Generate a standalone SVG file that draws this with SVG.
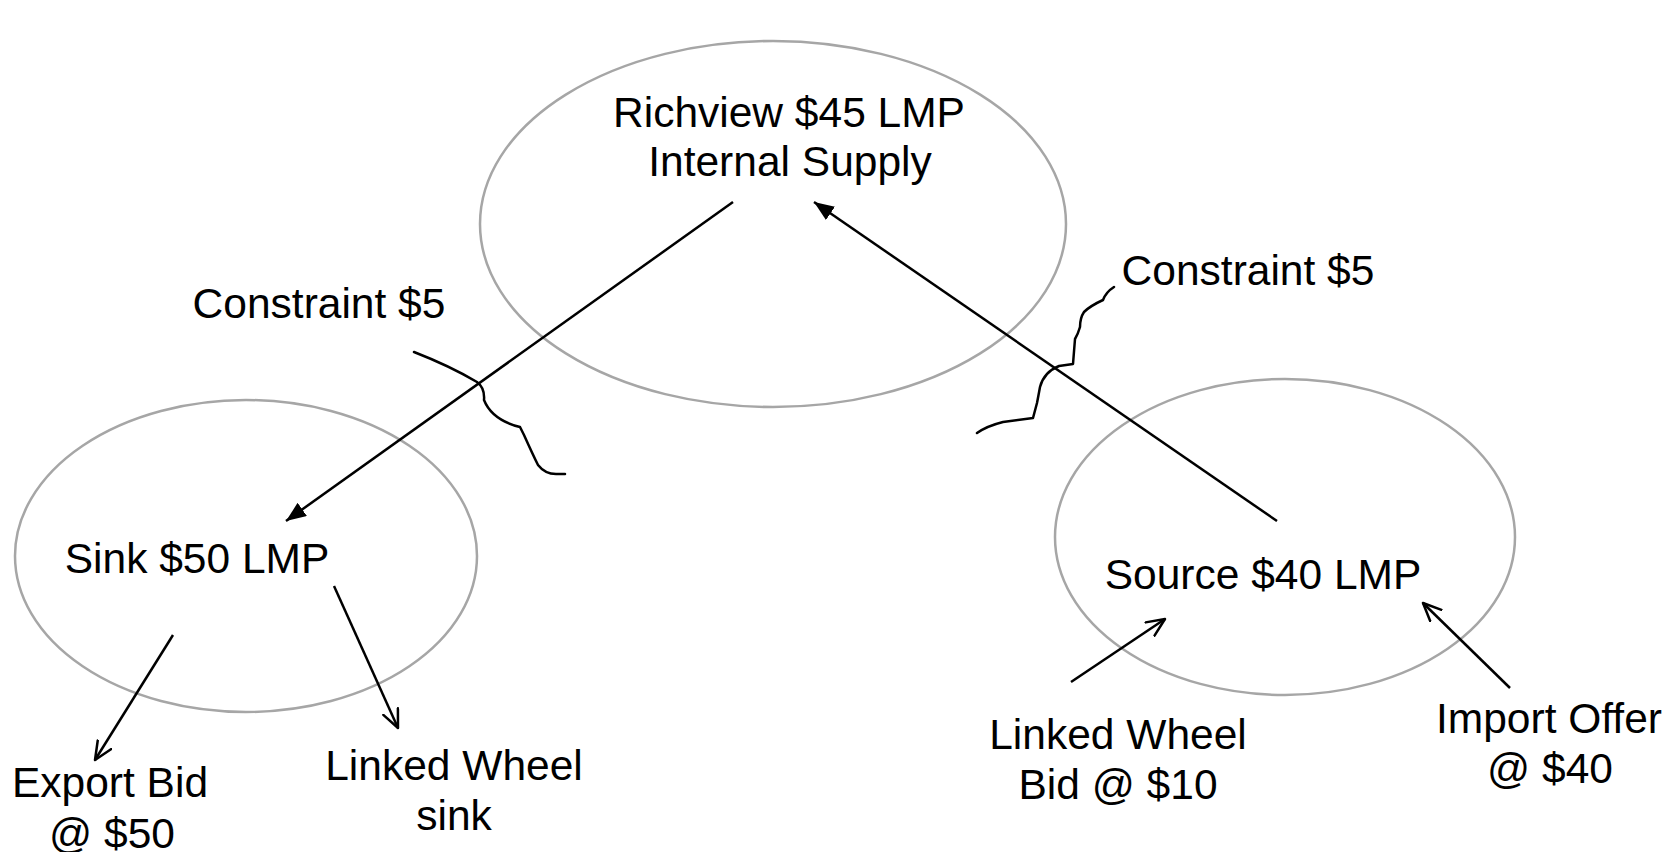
<svg xmlns="http://www.w3.org/2000/svg" width="1671" height="852" viewBox="0 0 1671 852">
  <style>
    .zone { fill: none; stroke: #a6a6a6; stroke-width: 2.5; }
    .lbl { font-family: "Liberation Sans", Arial, sans-serif; font-size: 42.5px; fill: #000; text-anchor: middle; }
    .flow { stroke: #000; stroke-width: 2.5; fill: none; }
    .cut { stroke: #000; stroke-width: 2.5; fill: none; stroke-linejoin: round; stroke-linecap: round; }
  </style>
  <defs>
    <marker id="solidHead" markerUnits="userSpaceOnUse" markerWidth="22" markerHeight="18" refX="20" refY="8" orient="auto">
      <path d="M0,0 L20,8 L0,16 z" fill="#000"/>
    </marker>
    <marker id="openHead" markerUnits="userSpaceOnUse" markerWidth="24" markerHeight="22" refX="19" refY="9" orient="auto">
      <path d="M1,1 L19,9 L1,17" fill="none" stroke="#000" stroke-width="2.5" stroke-linejoin="round" stroke-linecap="round"/>
    </marker>
  </defs>

  <rect width="1671" height="852" fill="#fff"/>

  <!-- zones -->
  <g id="richview">
    <ellipse class="zone" cx="773" cy="224" rx="293" ry="183"/>
    <text class="lbl" x="789" y="127">Richview $45 LMP</text>
    <text class="lbl" x="790" y="176">Internal Supply</text>
  </g>
  <g id="sink">
    <ellipse class="zone" cx="246" cy="556" rx="231" ry="156"/>
    <text class="lbl" x="197" y="573">Sink $50 LMP</text>
  </g>
  <g id="source">
    <ellipse class="zone" cx="1285" cy="537" rx="230" ry="158"/>
    <text class="lbl" x="1263" y="589">Source $40 LMP</text>
  </g>

  <!-- transaction labels -->
  <g id="export-bid">
    <text class="lbl" x="110" y="797">Export Bid</text>
    <text class="lbl" x="112" y="848">@ $50</text>
  </g>
  <g id="wheel-sink">
    <text class="lbl" x="454" y="780">Linked Wheel</text>
    <text class="lbl" x="454" y="830">sink</text>
  </g>
  <g id="wheel-bid">
    <text class="lbl" x="1118" y="749">Linked Wheel</text>
    <text class="lbl" x="1118" y="799">Bid @ $10</text>
  </g>
  <g id="import-offer">
    <text class="lbl" x="1549" y="733">Import Offer</text>
    <text class="lbl" x="1550" y="783">@ $40</text>
  </g>

  <!-- constraints crossing the flows -->
  <g id="constraint-left">
    <text class="lbl" x="319" y="318">Constraint $5</text>
    <path class="cut" d="M414,352 Q450,366 477,382 Q485,388 484,400 Q492,420 520,427 L524,435 Q533,455 538,465 Q545,474 556,474 L565,474"/>
  </g>
  <g id="constraint-right">
    <text class="lbl" x="1248" y="285">Constraint $5</text>
    <path class="cut" d="M1114,287 Q1106,292 1103,300 Q1090,306 1084,312 Q1080,318 1080,327 Q1078,334 1075,339 L1073,364 L1059,366 Q1044,372 1040,387 Q1038,398 1037,403 L1033,418 L1003,422 Q987,426 977,433"/>
  </g>

  <!-- connectors -->
  <g id="connectors">
    <line class="flow" x1="733" y1="202" x2="286" y2="521" marker-end="url(#solidHead)"/>
    <line class="flow" x1="1277" y1="521" x2="814" y2="202" marker-end="url(#solidHead)"/>
    <line class="flow" x1="173" y1="635" x2="95" y2="760" marker-end="url(#openHead)"/>
    <line class="flow" x1="334" y1="586" x2="398" y2="728" marker-end="url(#openHead)"/>
    <line class="flow" x1="1071" y1="682" x2="1165" y2="619" marker-end="url(#openHead)"/>
    <line class="flow" x1="1510" y1="688" x2="1423" y2="603" marker-end="url(#openHead)"/>
  </g>
</svg>
